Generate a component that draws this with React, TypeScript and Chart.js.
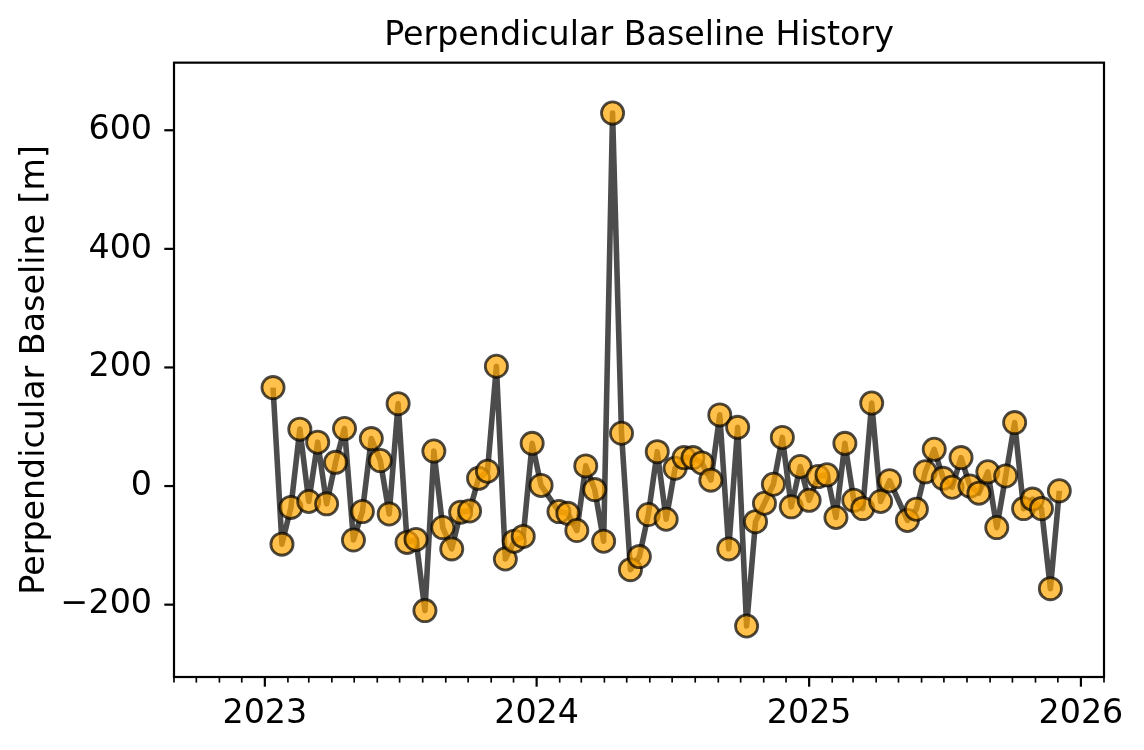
import React, { useEffect, useRef } from "react";
import { Chart, registerables } from "chart.js";

Chart.register(...registerables);

// Acquisition dates (12-day repeat, two gaps)
const DATES: string[] = [
  "2023-01-12", "2023-01-24", "2023-02-05", "2023-02-17", "2023-03-01", "2023-03-13", "2023-03-25",
  "2023-04-06", "2023-04-18", "2023-04-30", "2023-05-12", "2023-05-24", "2023-06-05", "2023-06-17",
  "2023-06-29", "2023-07-11", "2023-07-23", "2023-08-04", "2023-08-16", "2023-08-28", "2023-09-09",
  "2023-09-21", "2023-10-03", "2023-10-15", "2023-10-27", "2023-11-08", "2023-11-20", "2023-12-02",
  "2023-12-14", "2023-12-26", "2024-01-07", "2024-01-31", "2024-02-12", "2024-02-24", "2024-03-07",
  "2024-03-19", "2024-03-31", "2024-04-12", "2024-04-24", "2024-05-06", "2024-05-18", "2024-05-30",
  "2024-06-11", "2024-06-23", "2024-07-05", "2024-07-17", "2024-07-29", "2024-08-10", "2024-08-22",
  "2024-09-03", "2024-09-15", "2024-09-27", "2024-10-09", "2024-10-21", "2024-11-02", "2024-11-14",
  "2024-11-26", "2024-12-08", "2024-12-20", "2025-01-01", "2025-01-13", "2025-01-25", "2025-02-06",
  "2025-02-18", "2025-03-02", "2025-03-14", "2025-03-26", "2025-04-07", "2025-04-19", "2025-05-13",
  "2025-05-25", "2025-06-06", "2025-06-18", "2025-06-30", "2025-07-12", "2025-07-24", "2025-08-05",
  "2025-08-17", "2025-08-29", "2025-09-10", "2025-09-22", "2025-10-04", "2025-10-16", "2025-10-28",
  "2025-11-09", "2025-11-21", "2025-12-03",
];

// Perpendicular baseline [m]
const BASELINE: number[] = [
  166, -98, -36, 96, -26, 74, -30, 40, 97, -91, -43, 80, 43, -47,
  139, -95, -90, -210, 59, -70, -106, -44, -42, 13, 25, 202, -123, -93,
  -85, 72, 1, -43, -46, -75, 34, -6, -93, 629, 89, -141, -119, -48,
  58, -56, 30, 48, 48, 39, 10, 120, -106, 99, -236, -60, -29, 3,
  82, -35, 33, -24, 16, 19, -53, 72, -24, -38, 140, -26, 9, -58,
  -39, 24, 62, 13, -2, 48, 0, -12, 24, -70, 17, 107, -38, -22,
  -38, -173, -8,
];

const Y_TICKS: number[] = [-200, 0, 200, 400, 600];
const X_MIN_DATE = "2022-09-01";
const X_MAX_DATE = "2026-02-01";
const Y_MIN = -322;
const Y_MAX = 714;

const TITLE = "Perpendicular Baseline History";
const Y_LABEL = "Perpendicular Baseline [m]";

const EPOCH = Date.UTC(2023, 0, 1);
const DAY = 86400000;
function dayOf(s: string): number {
  const [y, m, d] = s.split("-").map(Number);
  return Math.round((Date.UTC(y, m - 1, d) - EPOCH) / DAY);
}

function monthTicks(): { value: number; major: boolean }[] {
  const out: { value: number; major: boolean }[] = [];
  for (let y = 2022; y <= 2026; y++) {
    for (let m = 0; m < 12; m++) {
      const v = Math.round((Date.UTC(y, m, 1) - EPOCH) / DAY);
      out.push({ value: v, major: m === 0 });
    }
  }
  const lo = dayOf(X_MIN_DATE);
  const hi = dayOf(X_MAX_DATE);
  return out.filter((t) => t.value >= lo && t.value <= hi);
}

const FS = 33.3;
const MAJOR_LEN = 9.7;
const MINOR_LEN = 5.6;

const axisDecor = {
  id: "axisDecor",
  afterDatasetsDraw(chart: any) {
    const { ctx, chartArea: a, scales } = chart;
    ctx.save();
    ctx.strokeStyle = "#000";
    ctx.lineCap = "butt";
    for (const t of scales.x.ticks) {
      const px = scales.x.getPixelForValue(t.value);
      if (px < a.left - 0.5 || px > a.right + 0.5) continue;
      ctx.lineWidth = t.major ? 2.2 : 1.67;
      ctx.beginPath();
      ctx.moveTo(px, a.bottom);
      ctx.lineTo(px, a.bottom + (t.major ? MAJOR_LEN : MINOR_LEN));
      ctx.stroke();
    }
    for (const t of scales.y.ticks) {
      const py = scales.y.getPixelForValue(t.value);
      ctx.lineWidth = 2.2;
      ctx.beginPath();
      ctx.moveTo(a.left, py);
      ctx.lineTo(a.left - MAJOR_LEN, py);
      ctx.stroke();
    }
    ctx.lineWidth = 2.2;
    ctx.strokeRect(a.left, a.top, a.right - a.left, a.bottom - a.top);
    ctx.restore();
  },
};

export default function App() {
  const ref = useRef<HTMLCanvasElement | null>(null);
  useEffect(() => {
    document.body.style.margin = "0";
    Chart.defaults.font.family = "'DejaVu Sans', sans-serif";
    Chart.defaults.color = "#000";
    const data = DATES.map((d, i) => ({ x: dayOf(d), y: BASELINE[i] }));
    const chart = new Chart(ref.current as HTMLCanvasElement, {
      type: "line",
      data: {
        datasets: [
          {
            data,
            borderColor: "rgba(0,0,0,0.7)",
            borderWidth: 5.6,
            borderJoinStyle: "round",
            tension: 0,
            pointRadius: 11.1,
            pointHoverRadius: 11.1,
            pointBackgroundColor: "rgba(255,165,0,0.7)",
            pointBorderColor: "rgba(0,0,0,0.7)",
            pointBorderWidth: 2.8,
          },
        ],
      },
      options: {
        animation: false,
        responsive: false,
        layout: { padding: { left: 0, right: 40, top: 0, bottom: 0 } },
        plugins: {
          legend: { display: false },
          tooltip: { enabled: false },
          title: {
            display: true,
            fullSize: false,
            text: TITLE,
            color: "#000",
            font: { size: FS, weight: "normal" },
            padding: { top: 16, bottom: 6.7 },
          },
        },
        scales: {
          x: {
            type: "linear",
            min: dayOf(X_MIN_DATE),
            max: dayOf(X_MAX_DATE),
            grid: { display: false, drawTicks: false },
            border: { display: false },
            afterBuildTicks: (scale: any) => {
              scale.ticks = monthTicks();
            },
            afterFit: (scale: any) => {
              scale.height = 73;
            },
            ticks: {
              autoSkip: false,
              maxRotation: 0,
              minRotation: 0,
              padding: 17,
              font: { size: FS },
              color: "#000",
              callback: (value: any) => {
                const dt = new Date(EPOCH + Number(value) * DAY);
                return dt.getUTCMonth() === 0 && dt.getUTCDate() === 1
                  ? String(dt.getUTCFullYear())
                  : "";
              },
            },
          },
          y: {
            type: "linear",
            min: Y_MIN,
            max: Y_MAX,
            grid: { display: false, drawTicks: false },
            border: { display: false },
            afterBuildTicks: (scale: any) => {
              scale.ticks = Y_TICKS.map((v) => ({ value: v }));
            },
            afterFit: (scale: any) => {
              scale.width = 174;
            },
            ticks: {
              padding: 22,
              font: { size: FS },
              color: "#000",
              callback: (value: any) => {
                const v = Number(value);
                return v < 0 ? "\u2212" + Math.abs(v) : String(v);
              },
            },
            title: {
              display: true,
              text: Y_LABEL,
              color: "#000",
              font: { size: FS },
              padding: { top: 15, bottom: 0 },
            },
          },
        },
      },
      plugins: [axisDecor],
    });
    return () => chart.destroy();
  }, []);
  return (
    <div style={{ width: 1144, height: 750 }}>
      <canvas ref={ref} width={1144} height={750} style={{ display: "block" }} />
    </div>
  );
}
